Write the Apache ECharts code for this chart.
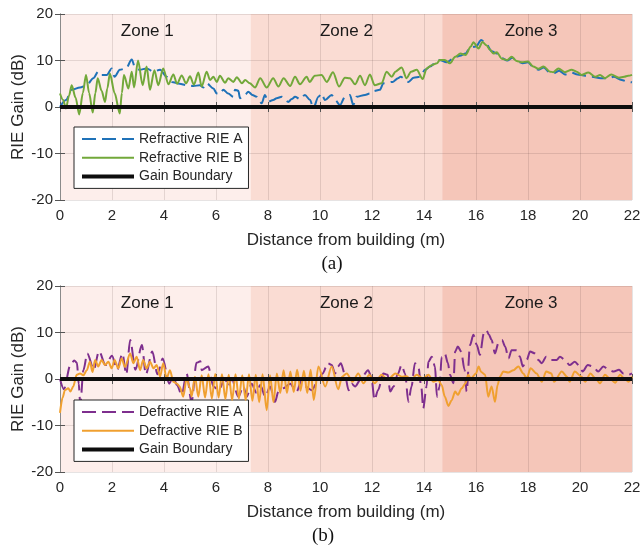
<!DOCTYPE html>
<html>
<head>
<meta charset="utf-8">
<script src="https://cdn.jsdelivr.net/npm/echarts@6/dist/echarts.min.js"></script>
<style>
  html, body { margin: 0; padding: 0; background: #fff; }
  #chart { width: 641px; height: 547px; }
</style>
</head>
<body>
<div id="chart"></div>
<script>
// zone name, start (m), end (m)
const zones = [['Zone 1', 0, 7.33], ['Zone 2', 7.33, 14.7], ['Zone 3', 14.7, 22]]

// panel (a) : [distance m, gain dB]
const refractiveA = [[0,0],[0.23,1.5],[0.45,3.7],[0.77,4.2],[1.03,4.7],[1.28,6.2],[1.47,7.6],[1.6,6.9],[1.8,6.9],[1.99,8.3],[2.1,6.5],[2.3,8],[2.54,8.3],[2.76,10.2],[2.88,8.6],[3.07,8],[3.33,8.3],[3.6,7.6],[3.85,8],[4.1,6.5],[4.3,5.4],[4.6,5],[4.87,4.7],[5.13,4.5],[5.38,4.7],[5.51,4.2],[5.64,5.1],[5.9,4],[6.03,2.9],[6.15,2.8],[6.28,3.7],[6.47,2.9],[6.67,2.2],[6.73,3.7],[6.86,3.5],[6.92,1.9],[7.12,2.6],[7.24,3.3],[7.4,2.6],[7.56,2.2],[7.63,1.5],[7.76,0.8],[7.88,2.6],[8.0,1.1],[8.2,1.5],[8.33,1.9],[8.53,2.2],[8.78,1.1],[8.91,1.7],[9.04,2.2],[9.23,1.7],[9.42,2.6],[9.62,1.5],[9.74,-0.3],[9.94,2.2],[10.06,2.9],[10.19,1.5],[10.45,2.6],[10.58,1.5],[10.77,0.4],[10.96,2.2],[11.15,2.6],[11.28,0.4],[11.4,2.2],[11.73,2.6],[11.92,2.9],[12.05,3.4],[12.3,3.7],[12.44,5.1],[12.8,5.4],[13.0,6.2],[13.1,6.5],[13.4,5.4],[13.6,6.3],[13.85,6.5],[14.04,8],[14.23,8.7],[14.5,9.8],[14.6,10.1],[14.87,9.6],[15.1,10.3],[15.38,11],[15.6,11.5],[15.77,12.8],[16.0,13],[16.2,14.4],[16.4,13.5],[16.6,12],[16.8,11.5],[17.0,10.5],[17.2,10],[17.4,10.6],[17.6,9.8],[17.8,9.4],[18.0,9.6],[18.2,8.6],[18.4,8],[18.6,8.5],[18.85,7.4],[19.0,7.3],[19.2,7.8],[19.42,7],[19.68,7.4],[19.9,7],[20.2,6.7],[20.45,6.5],[20.8,6.2],[21.1,6.2],[21.3,6.5],[21.6,5.8],[21.85,5.4],[22,5.3]]
const refractiveB = [[0,2.9],[0.12,1.5],[0.23,-0.3],[0.35,2.5],[0.45,4.7],[0.6,2],[0.74,-1.6],[0.88,3],[1.0,6.9],[1.12,3],[1.26,-1.2],[1.36,3],[1.45,6.2],[1.6,3.5],[1.73,1.1],[1.82,4],[1.92,7.2],[2.1,3],[2.3,-1.4],[2.38,3],[2.46,6.9],[2.63,4],[2.76,7.6],[2.85,4.2],[3.0,10],[3.18,4.7],[3.33,8.7],[3.46,3.7],[3.63,7.9],[3.78,4.7],[3.97,8.3],[4.17,4.9],[4.36,7],[4.5,5],[4.68,6.8],[4.85,5.1],[5.0,6.6],[5.15,4.8],[5.32,7.4],[5.45,4.4],[5.64,7.6],[5.77,5.8],[5.9,6.5],[6.03,5.4],[6.15,6.7],[6.35,5.2],[6.47,6.2],[6.67,5.4],[6.8,6.4],[7.0,5.1],[7.12,5.8],[7.3,5.1],[7.5,4.2],[7.7,6.2],[7.95,4.2],[8.2,6.2],[8.4,4.4],[8.6,6.2],[8.85,4.5],[9.04,6.5],[9.23,4.9],[9.49,6.5],[9.6,5.4],[9.8,6.7],[10.06,6.9],[10.26,5.4],[10.5,7.5],[10.73,4.4],[10.96,6.3],[11.15,6.2],[11.35,4.9],[11.54,6.7],[11.73,4.7],[11.92,7],[12.1,4.7],[12.37,5.1],[12.56,7.6],[12.76,6.5],[12.9,7.6],[13.14,8.5],[13.33,6.2],[13.5,7.6],[13.72,8],[13.95,6],[14.1,8.3],[14.3,9],[14.5,9.4],[14.6,10.1],[14.8,10.1],[15.0,9.4],[15.2,10.8],[15.4,11.5],[15.6,11.2],[15.8,13],[15.9,13.9],[16.1,12.6],[16.25,14],[16.4,13.3],[16.54,12.3],[16.67,11.5],[16.8,11.8],[16.99,10.4],[17.2,10.1],[17.37,10.8],[17.56,9.9],[17.76,9.6],[18.0,9.8],[18.2,8.7],[18.4,8.2],[18.6,8.7],[18.85,7.6],[18.97,7.5],[19.17,8.3],[19.42,7.5],[19.68,8],[19.87,7.6],[20.06,6.9],[20.32,7.4],[20.6,6.5],[20.77,6.9],[20.96,6.2],[21.2,7],[21.5,6.3],[21.7,6.5],[21.85,6.7],[22,6.9]]

// panel (b)
const defractiveA = [[0,0],[0.15,-2.2],[0.4,3],[0.55,4],[0.65,3.5],[0.72,-1],[0.78,-5.5],[0.9,1.9],[1.05,5.5],[1.3,2],[1.5,6],[1.75,3],[2.0,5],[2.2,2],[2.4,5.5],[2.55,1],[2.7,8.4],[2.9,2],[3.15,7.3],[3.3,1],[3.55,5.9],[3.75,1],[3.95,4.4],[4.2,-1],[4.35,0.5],[4.5,-1.3],[4.68,-3.4],[4.87,1.2],[5.06,-5],[5.25,3.5],[5.4,3.8],[5.45,1.9],[5.7,2.7],[5.9,-1.6],[6.1,-2.4],[6.35,0.1],[6.47,-1.6],[6.6,0.1],[6.86,-3.8],[7.05,-1.6],[7.18,-3.8],[7.37,-1],[7.56,-3],[7.7,-1.3],[7.9,-3.8],[8.08,-1.6],[8.27,-4.9],[8.4,-2.7],[8.59,-2],[8.85,-1],[9.1,-2.7],[9.3,-0.2],[9.42,-1.6],[9.68,-2.4],[9.94,-0.2],[10.1,1.2],[10.3,3.4],[10.45,3],[10.58,1.2],[10.7,2.7],[10.8,3.4],[10.95,1.2],[11.1,-2.4],[11.22,-1],[11.35,-1.6],[11.55,-0.2],[11.85,1.9],[11.97,0.5],[12.1,-4.5],[12.23,-2.4],[12.44,1.2],[12.6,0.9],[12.7,-2.7],[12.83,-1.6],[13.0,1.2],[13.14,3],[13.27,1.2],[13.4,-4.9],[13.52,-1.6],[13.65,3.4],[13.78,2.7],[13.9,-1.9],[13.97,-6.3],[14.1,-1.6],[14.17,3.7],[14.3,4.8],[14.42,2.7],[14.5,-3.8],[14.6,-1.6],[14.68,4.8],[14.8,5.5],[14.92,3.4],[15.0,0.9],[15.13,-0.9],[15.2,5.9],[15.3,7],[15.43,5.9],[15.56,2],[15.64,-2.7],[15.77,7.3],[15.9,9.5],[16.03,7.3],[16.15,5.2],[16.3,9.8],[16.4,10.5],[16.5,9.5],[16.6,8.4],[16.73,5.5],[16.86,7.7],[17.0,8.4],[17.12,7],[17.25,4.4],[17.37,6.2],[17.56,6.2],[17.69,4.8],[17.8,2.7],[17.95,4.1],[18.08,5.9],[18.27,5.5],[18.4,4.1],[18.53,3.4],[18.7,4.8],[18.9,4.1],[19.1,4.1],[19.23,4.8],[19.42,4.1],[19.6,3],[19.8,3.7],[20.0,2.7],[20.1,1.6],[20.3,3],[20.5,2.7],[20.7,1.6],[20.9,2.7],[21.1,2],[21.3,1.6],[21.5,2],[21.67,1.2],[21.85,0.9],[22,1.2]]
const defractiveB = [[0,-7.3],[0.1,-4],[0.19,-2.4],[0.32,-2],[0.4,-2.7],[0.51,-1.6],[0.64,0.9],[0.77,1.2],[0.9,0.8],[1.03,1.9],[1.15,3.7],[1.25,1.5],[1.35,4.1],[1.47,2.7],[1.6,4.1],[1.73,3],[1.86,3.7],[1.99,2.3],[2.1,4.1],[2.24,2.3],[2.37,4.4],[2.5,2.6],[2.7,5.5],[2.82,3.4],[2.95,4.8],[3.08,1.9],[3.2,4.1],[3.33,2.3],[3.46,3.7],[3.6,2.3],[3.72,3],[3.85,0.5],[3.97,3.4],[4.1,0.1],[4.23,1.9],[4.36,-0.6],[4.5,-1],[4.6,-1.6],[4.74,-3.8],[4.87,0.1],[5.0,-2],[5.06,-3.8],[5.19,0.5],[5.32,-3.8],[5.45,0.8],[5.58,-4],[5.71,1],[5.84,-4.2],[5.97,1.1],[6.1,-4],[6.23,1],[6.36,-4.3],[6.49,0.9],[6.62,-4.5],[6.75,1],[6.88,-4.2],[7.01,0.8],[7.14,-4.5],[7.27,1],[7.4,-4.7],[7.53,0.9],[7.66,-5],[7.79,1],[7.95,-6.7],[8.08,0.8],[8.21,-5],[8.34,1.2],[8.47,-3],[8.6,1.9],[8.73,-3],[8.86,1.6],[8.99,-2.8],[9.12,2],[9.25,-2.5],[9.38,1.8],[9.51,-3],[9.64,2],[9.76,-4.5],[9.94,2.7],[10.2,-1.6],[10.45,2.7],[10.7,-2.2],[10.85,0.5],[11.03,1.2],[11.25,-0.6],[11.47,1.2],[11.67,-0.9],[11.9,0.9],[12.1,-0.9],[12.37,0.9],[12.6,-0.2],[12.9,1.2],[13.14,0.5],[13.33,0.6],[13.5,-0.2],[13.72,0.9],[13.97,0.1],[14.17,0.9],[14.36,-0.6],[14.55,-0.2],[14.68,-1.3],[14.8,-3.8],[14.94,-5.8],[15.06,-4.6],[15.2,-2.7],[15.3,-3.4],[15.45,-2],[15.6,-0.9],[15.7,0.9],[15.8,0.1],[16.0,1.2],[16.1,2.7],[16.2,1.5],[16.35,0.9],[16.47,-3.8],[16.6,-1.6],[16.73,-4.9],[16.83,-1.3],[16.92,0.5],[17.05,1.6],[17.24,1.4],[17.44,1.9],[17.63,2.7],[17.82,1.2],[17.95,0.1],[18.1,2.3],[18.33,1.2],[18.53,-0.6],[18.7,1.6],[18.9,1.2],[19.0,-0.6],[19.3,1.6],[19.5,0.5],[19.6,-0.6],[19.8,1.6],[20.06,0.5],[20.2,-0.6],[20.4,1.2],[20.6,0.1],[20.77,-0.9],[20.96,0.9],[21.15,0.1],[21.35,-0.8],[21.54,0.9],[21.7,0.1],[21.87,-0.6],[22,0.5]]

const boundary = [[0, 0], [22, 0]]

const FONT = 'Liberation Sans, Arial, sans-serif'
const SERIF = '19px "Liberation Serif", "Times New Roman", serif'
const zoneColors = ['#fdeeeb', '#fadcd3', '#f5c6b9']
const zoneLabelOffset = [[-8, 0], [0, 0], [-6, 0]]

const chart = echarts.init(document.getElementById('chart'))

const grids = [
  { left: 60, top: 14, width: 572, height: 186, containLabel: false, outerBoundsMode: 'none' },
  { left: 60, top: 286, width: 572, height: 186, containLabel: false, outerBoundsMode: 'none' },
]

const frameLine = { lineStyle: { color: '#8a8a8a' } }
const innerTick = { show: true, inside: true, length: 5, lineStyle: { color: '#555' } }
const gridLine = { show: true, lineStyle: { color: 'rgba(60,40,40,0.13)' } }
const nameStyle = { fontFamily: FONT, fontSize: 17, color: '#262626' }
const tickLabel = { fontFamily: FONT, fontSize: 15, color: '#262626' }

const xAxes = []
const yAxes = []
grids.forEach((g, i) => {
  xAxes.push({
    type: 'value', gridIndex: i, min: 0, max: 22, interval: 2, z: 1.5,
    name: 'Distance from building (m)', nameLocation: 'middle', nameGap: 32, nameMoveOverlap: false,
    nameTextStyle: nameStyle,
    axisLine: frameLine, axisTick: innerTick,
    axisLabel: { ...tickLabel, margin: 8 },
    splitLine: gridLine,
  })
  // top frame
  xAxes.push({
    type: 'value', gridIndex: i, min: 0, max: 22, interval: 2, position: 'top', z: 1.5,
    axisLine: { show: true, ...frameLine }, axisTick: innerTick,
    axisLabel: { show: false }, splitLine: { show: false },
  })
  yAxes.push({
    type: 'value', gridIndex: i, min: -20, max: 20, interval: 10, z: 1.5,
    name: 'RIE Gain (dB)', nameLocation: 'middle', nameGap: 33, nameMoveOverlap: false,
    nameTextStyle: nameStyle,
    axisLine: { show: true, ...frameLine }, axisTick: innerTick,
    axisLabel: { ...tickLabel, margin: 7 },
    splitLine: gridLine,
  })
  // right frame
  yAxes.push({
    type: 'value', gridIndex: i, min: -20, max: 20, interval: 10, position: 'right', z: 1.5,
    axisLine: { show: true, ...frameLine }, axisTick: innerTick,
    axisLabel: { show: false }, splitLine: { show: false },
  })
})

const panels = [
  { a: refractiveA, b: refractiveB, names: ['Refractive RIE A', 'Refractive RIE B'], colors: ['#1f72b8', '#72a83a'] },
  { a: defractiveA, b: defractiveB, names: ['Defractive RIE A', 'Defractive RIE B'], colors: ['#7e2f8e', '#f0a030'] },
]

const series = []
panels.forEach((p, i) => {
  const ax = { xAxisIndex: i * 2, yAxisIndex: i * 2 }
  series.push({
    type: 'line', ...ax, data: [], silent: true,
    markArea: {
      silent: true,
      data: zones.map((z, k) => [
        {
          name: z[0], xAxis: z[1],
          itemStyle: { color: zoneColors[k] },
          label: {
            show: true, position: 'insideTop', distance: 9, offset: zoneLabelOffset[k],
            fontFamily: FONT, fontSize: 17, color: '#1a1a1a',
          },
        },
        { xAxis: z[2] },
      ]),
    },
  })
  series.push({
    name: p.names[0], type: 'line', ...ax, data: p.a, showSymbol: false, symbol: 'none',
    smooth: 0.3, smoothMonotone: 'x', z: 3,
    lineStyle: { color: p.colors[0], width: 2, type: [14, 6] }, itemStyle: { color: p.colors[0] },
  })
  series.push({
    name: p.names[1], type: 'line', ...ax, data: p.b, showSymbol: false, symbol: 'none',
    smooth: 0.3, smoothMonotone: 'x', z: 4,
    lineStyle: { color: p.colors[1], width: 2 }, itemStyle: { color: p.colors[1] },
  })
  series.push({
    name: 'Gain Boundary', type: 'line', ...ax, data: boundary, showSymbol: false, symbol: 'none', z: 5,
    lineStyle: { color: '#0d0d0d', width: 4 }, itemStyle: { color: '#0d0d0d' },
  })
})

const legendBase = {
  orient: 'vertical', left: 74, padding: [5, 6], itemWidth: 52, itemHeight: 14, itemGap: 4.7,
  backgroundColor: '#fff', borderColor: '#262626', borderWidth: 1, borderRadius: 0,
  textStyle: { fontFamily: FONT, fontSize: 14, color: '#262626' },
  itemStyle: { opacity: 0 },
  selectedMode: false,
}

const legendData = (names) => [names[0], names[1], { name: 'Gain Boundary', lineStyle: { width: 4 } }]

chart.setOption({
  animation: false,
  grid: grids,
  xAxis: xAxes,
  yAxis: yAxes,
  legend: [
    { ...legendBase, top: 127, data: legendData(panels[0].names) },
    { ...legendBase, top: 400, data: legendData(panels[1].names) },
  ],
  graphic: [
    { type: 'text', x: 332, y: 264, style: { text: '(a)', align: 'center', verticalAlign: 'middle', font: SERIF, fill: '#111' } },
    { type: 'text', x: 323, y: 536, style: { text: '(b)', align: 'center', verticalAlign: 'middle', font: SERIF, fill: '#111' } },
  ],
  series,
})
</script>
</body>
</html>
